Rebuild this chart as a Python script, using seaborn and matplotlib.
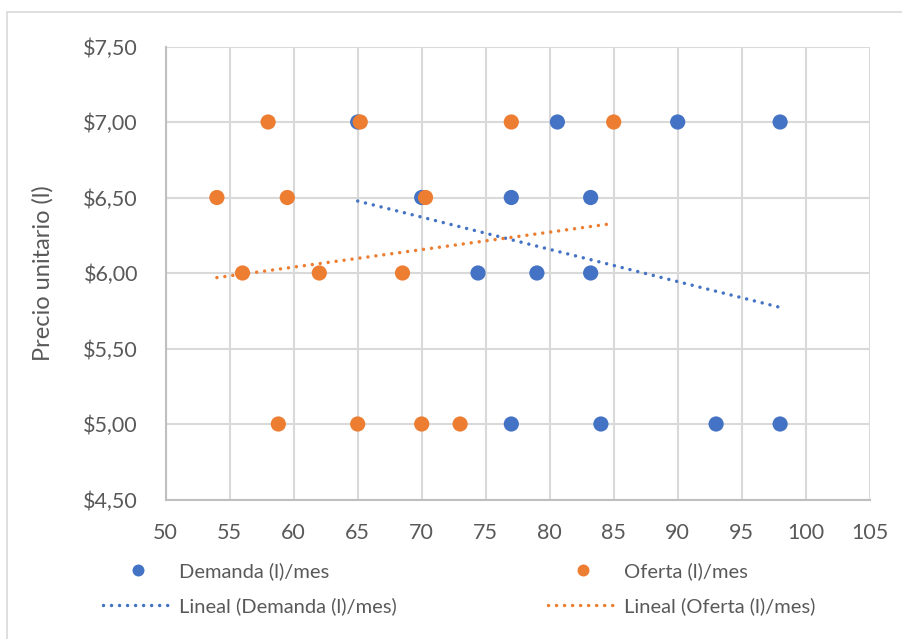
import matplotlib
matplotlib.use("Agg")
import numpy as np
import pandas as pd
import matplotlib.pyplot as plt
from matplotlib.lines import Line2D
from matplotlib.patches import Rectangle
import seaborn as sns

# Quantity (l/month) and unit price for each series
demanda_cantidad = [65, 80.6, 90, 98, 70, 77, 83.2, 74.4, 79, 83.2, 77, 84, 93, 98]
demanda_precio = [7.0, 7.0, 7.0, 7.0, 6.5, 6.5, 6.5, 6.0, 6.0, 6.0, 5.0, 5.0, 5.0, 5.0]
oferta_cantidad = [58, 65.2, 77, 85, 54, 59.5, 70.3, 56, 62, 68.5, 58.8, 65, 70, 73]
oferta_precio = [7.0, 7.0, 7.0, 7.0, 6.5, 6.5, 6.5, 6.0, 6.0, 6.0, 5.0, 5.0, 5.0, 5.0]

series_names = ["Demanda (l)/mes", "Oferta (l)/mes"]
trend_names = ["Lineal (Demanda (l)/mes)", "Lineal (Oferta (l)/mes)"]
y_label = "Precio unitario (l)"
x_ticks = [50, 55, 60, 65, 70, 75, 80, 85, 90, 95, 100, 105]
y_ticks = [4.5, 5.0, 5.5, 6.0, 6.5, 7.0, 7.5]

colors = ["#4472C4", "#ED7D31"]
text_color = "#595959"
grid_color = "#D9D9D9"

df = pd.concat([
    pd.DataFrame({"cantidad": demanda_cantidad, "precio": demanda_precio, "serie": series_names[0]}),
    pd.DataFrame({"cantidad": oferta_cantidad, "precio": oferta_precio, "serie": series_names[1]}),
], ignore_index=True)

sns.set_theme(style="white")
plt.rcParams["font.family"] = ["Lato", "DejaVu Sans"]

W, H = 902, 639
fig = plt.figure(figsize=(W / 100, H / 100), dpi=100)
ax = fig.add_axes([165.7 / W, 1 - 499.5 / H, 704 / W, 453 / H])

# scatter points for both series
sns.scatterplot(data=df, x="cantidad", y="precio", hue="serie",
                hue_order=series_names, palette=colors, s=120,
                edgecolor="none", linewidth=0, legend=False, ax=ax, zorder=3)

# linear trend lines (least squares, over each series' own range)
dot_style = dict(lw=2.5, linestyle=(0, (0.01, 2.3)), dash_capstyle="round", zorder=4)
for name, col in zip(series_names, colors):
    sub = df[df["serie"] == name]
    sns.regplot(data=sub, x="cantidad", y="precio", scatter=False, ci=None,
                truncate=True, color=col, line_kws=dot_style, ax=ax)

ax.set_xlim(x_ticks[0], x_ticks[-1])
ax.set_ylim(y_ticks[0], y_ticks[-1])
ax.set_xticks(x_ticks)
ax.set_xticklabels([str(v) for v in x_ticks])
ax.set_yticks(y_ticks)
ax.set_yticklabels([f"${v:.2f}".replace(".", ",") for v in y_ticks])
ax.tick_params(axis="both", length=0, labelsize=15.5, labelcolor=text_color)
ax.tick_params(axis="y", pad=20)
ax.tick_params(axis="x", pad=17)
ax.set_xlabel("")
ax.set_ylabel(y_label, fontsize=17, color=text_color)
ax.yaxis.set_label_coords(-111.7 / 704, 0.5)

ax.grid(True, color=grid_color, lw=1.5)
ax.set_axisbelow(True)
for side in ["top", "right"]:
    ax.spines[side].set_visible(False)
for side in ["left", "bottom"]:
    ax.spines[side].set_color("#BFBFBF")
    ax.spines[side].set_linewidth(1.5)

# legend: marker entry above its trend line entry, one column per series
for i, (name, tname, col) in enumerate(zip(series_names, trend_names, colors)):
    handles = [
        Line2D([], [], linestyle="none", marker="o", markersize=8.6,
               markerfacecolor=col, markeredgecolor="none"),
        Line2D([], [], color=col, **{k: v for k, v in dot_style.items() if k != "zorder"}),
    ]
    x_left = [103, 548][i]
    fig.legend(handles, [name, tname], loc="upper left",
               bbox_to_anchor=(x_left / W, 1 - 562 / H),
               frameon=False, fontsize=14.5, labelcolor=text_color,
               handlelength=3.45, handletextpad=0.34, borderpad=0,
               borderaxespad=0, labelspacing=0.85)

# light chart border
fig.patches.append(Rectangle((7.5 / W, -0.1), 1.0, 1 - 11.5 / H + 0.1,
                             transform=fig.transFigure, fill=False,
                             edgecolor=grid_color, lw=1.2))

fig.savefig("out.png", dpi=100)
